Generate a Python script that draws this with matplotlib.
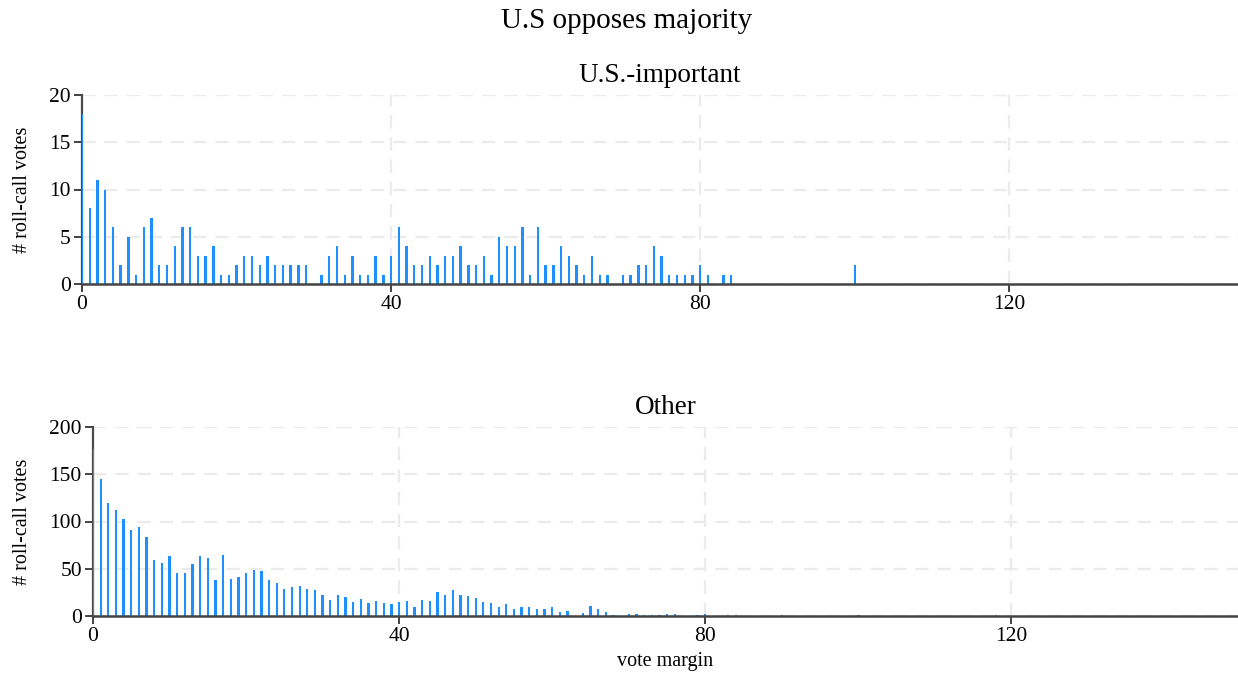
import matplotlib
matplotlib.use("Agg")
import matplotlib.pyplot as plt

plt.rcParams["font.family"] = ["Liberation Serif", "DejaVu Serif"]

# Roll-call votes where the U.S. opposes the majority, by vote margin
important_margin = [0, 1, 2, 3, 4, 5, 6, 7, 8, 9, 10, 11, 12, 13, 14, 15, 16, 17, 18, 19,
                    20, 21, 22, 23, 24, 25, 26, 27, 28, 29, 31, 32, 33, 34, 35, 36, 37, 38, 39,
                    40, 41, 42, 43, 44, 45, 46, 47, 48, 49, 50, 51, 52, 53, 54, 55, 56, 57, 58,
                    59, 60, 61, 62, 63, 64, 65, 66, 67, 68, 70, 71, 72, 73, 74, 75, 76, 77, 78,
                    79, 80, 81, 83, 84, 100]
important_votes = [18, 8, 11, 10, 6, 2, 5, 1, 6, 7, 2, 2, 4, 6, 6, 3, 3, 4, 1, 1,
                   2, 3, 3, 2, 3, 2, 2, 2, 2, 2, 1, 3, 4, 1, 3, 1, 1, 3, 1,
                   3, 6, 4, 2, 2, 3, 2, 3, 3, 4, 2, 2, 3, 1, 5, 4, 4, 6, 1,
                   6, 2, 2, 4, 3, 2, 1, 3, 1, 1, 1, 1, 2, 2, 4, 3, 1, 1, 1,
                   1, 2, 1, 1, 1, 2]

other_margin = [0, 1, 2, 3, 4, 5, 6, 7, 8, 9, 10, 11, 12, 13, 14, 15, 16, 17, 18, 19,
                20, 21, 22, 23, 24, 25, 26, 27, 28, 29, 30, 31, 32, 33, 34, 35, 36, 37, 38, 39,
                40, 41, 42, 43, 44, 45, 46, 47, 48, 49, 50, 51, 52, 53, 54, 55, 56, 57, 58, 59,
                60, 61, 62, 64, 65, 66, 67, 68, 70, 71, 72, 73, 74, 75, 76, 79, 80, 83, 84,
                90, 100, 118]
other_votes = [177, 145, 120, 112, 103, 91, 94, 84, 59, 56, 63, 46, 45, 55, 63, 61, 38, 65, 39, 41,
               45, 49, 48, 38, 35, 29, 31, 32, 29, 28, 22, 17, 22, 20, 15, 18, 14, 16, 14, 13,
               15, 16, 10, 17, 16, 25, 22, 28, 22, 21, 19, 15, 14, 10, 13, 7, 9, 10, 7, 7,
               9, 4, 5, 3, 11, 7, 4, 1, 2, 2, 1, 1, 1, 2, 2, 1, 2, 1, 1,
               1, 1, 1]

x_ticks = [0, 40, 80, 120]
important_yticks = [0, 5, 10, 15, 20]
other_yticks = [0, 50, 100, 150, 200]

BAR = "#1e8fff"
GRID = "#ebebeb"

fig = plt.figure(figsize=(12.38, 6.75), dpi=100)
ax_top = fig.add_axes([82 / 1238, 1 - 284 / 675, 1156 / 1238, 189 / 675])
ax_bot = fig.add_axes([93 / 1238, 1 - 616 / 675, 1145 / 1238, 189 / 675])


def style(ax, margins, votes, yticks, title, label_x):
    ax.set_axisbelow(True)
    ax.bar(margins, votes, width=0.3, color=BAR, linewidth=0, zorder=3.5)
    ax.set_xlim(0, 149.6)
    ax.set_ylim(0, yticks[-1])
    ax.set_xticks(x_ticks)
    ax.set_yticks(yticks)
    ax.grid(True, color=GRID, linestyle=(0, (6, 4)), linewidth=1.6)
    for s in ("top", "right"):
        ax.spines[s].set_visible(False)
    ax.spines["left"].set_color("#4a4a4a")
    ax.spines["left"].set_linewidth(1.6)
    ax.spines["bottom"].set_color("#444444")
    ax.spines["bottom"].set_linewidth(1.8)
    ax.spines["left"].set_zorder(3)
    ax.spines["bottom"].set_zorder(4)
    ax.tick_params(axis="both", length=6, width=1.2, color="#222222",
                   labelsize=15.5, labelcolor="black", pad=2)
    ax.set_ylabel("# roll-call votes", fontsize=14.5)
    ax.yaxis.set_label_coords(label_x, 0.5)
    ax.set_title(title, fontsize=19.5, pad=9)


style(ax_top, important_margin, important_votes, important_yticks, "U.S.-important",
      (32 - 82) / 1156)
style(ax_bot, other_margin, other_votes, other_yticks, "Other", (32 - 93) / 1145)
ax_bot.set_xlabel("vote margin", fontsize=14.5, labelpad=4)

fig.suptitle("U.S opposes majority", fontsize=21, x=0.506, y=1 - 21 / 675, va="center")

fig.savefig("out.png", dpi=100)
